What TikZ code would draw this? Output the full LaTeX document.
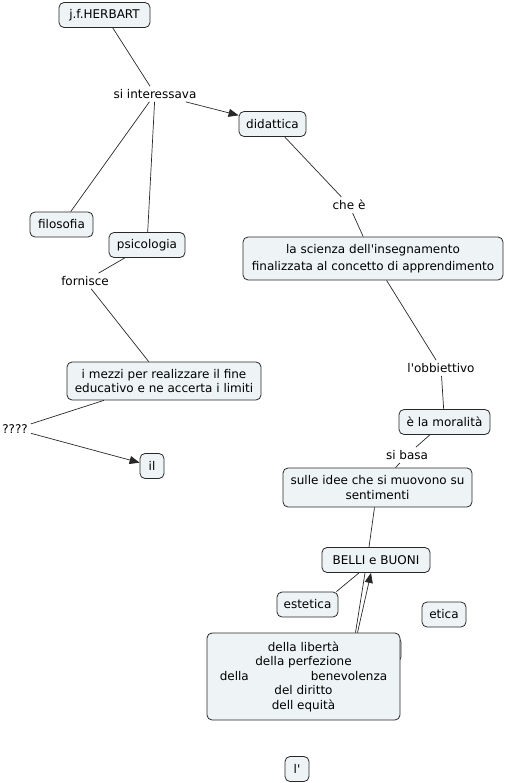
\documentclass[tikz,border=0pt]{standalone}
\usepackage{fontspec}
\setmainfont{DejaVu Sans}
\usetikzlibrary{arrows.meta}
\definecolor{conceptfill}{RGB}{238,243,245}
\definecolor{conceptline}{RGB}{40,40,40}
\tikzset{
  concept/.style={draw=conceptline, fill=conceptfill, rounded corners=5pt, line width=0.8pt,
    minimum height=25pt, inner xsep=4pt, inner ysep=3pt, align=center,
    font=\fontsize{12}{14.5}\selectfont},
  linkword/.style={inner sep=3pt, font=\fontsize{12}{14.5}\selectfont},
  link/.style={draw=conceptline, line width=0.7pt},
  linkarrow/.style={link, -{Triangle[length=10pt,width=8pt]}}
}
\begin{document}
\begin{tikzpicture}[x=1pt,y=-1pt]
        \def\q{\textquotesingle}
        \useasboundingbox (0,0) rectangle (506,783);

        \node[concept, minimum width=91pt] (herbart) at(104.5, 15) {j.f.HERBART};
        \node[linkword] (siint) at(155, 94) {si interessava};
        \node[concept, minimum width=67pt] (didattica) at(272.5, 124) {didattica};
        \node[concept, minimum width=63pt] (filosofia) at(61.5, 224.5) {filosofia};
        \node[concept, minimum width=76pt] (psicologia) at(147, 245) {psicologia};
        \node[linkword] (fornisce) at(85, 281) {fornisce};
        \node[concept, minimum width=194pt, minimum height=38pt] (mezzi) at(164, 381)
            {i mezzi per realizzare il fine\\educativo e ne accerta i limiti};
        \node[linkword] (qmarks) at(15, 429) {????};
        \node[concept, minimum width=24pt] (il) at(152, 466) {il};

        \node[linkword] (chee) at(349, 205) {che è};
        \node[concept, minimum width=260pt, minimum height=43pt] (scienza) at(373, 258.5)
            {la scienza dell\q insegnamento\\[3pt]finalizzata al concetto di apprendimento};
        \node[linkword] (obb) at(441, 368) {l\q obbiettivo};
        \node[concept, minimum width=91pt] (moralita) at(444.5, 422) {è la moralità};
        \node[linkword] (sibasa) at(407, 455) {si basa};
        \node[concept, minimum width=189pt, minimum height=39pt] (sulle) at(377.5, 487.5)
            {sulle idee che si muovono su\\sentimenti};
        \node[concept, minimum width=108pt] (belli) at(376, 560) {BELLI e BUONI};
        \node[concept, minimum width=61pt] (estetica) at(307.5, 604.5) {estetica};
        \node[concept, minimum width=44pt] (etica) at(444, 614.5) {etica};
        \node[concept, minimum width=101pt] (hidden) at(350.5, 649.5) {};
        \node[concept, minimum width=193pt, minimum height=87pt] (virtu) at(303.5, 676.5)
            {della libertà\\della perfezione\\della\hspace{62pt}benevolenza\\del diritto\\dell equità};
        \node[concept, minimum width=24pt] (lap) at(297, 769) {l\q};

        \draw[link] (herbart) -- (siint);
        \draw[linkarrow] (siint) -- (didattica);
        \draw[link] (siint) -- (filosofia);
        \draw[link] (siint) -- (psicologia);
        \draw[link] (psicologia) -- (fornisce);
        \draw[link] (fornisce) -- (mezzi);
        \draw[link] (mezzi) -- (qmarks);
        \draw[linkarrow] (qmarks) -- (il);
        \draw[link] (didattica) -- (chee);
        \draw[link] (chee) -- (scienza);
        \draw[link] (scienza) -- (obb);
        \draw[link] (obb) -- (moralita);
        \draw[link] (moralita) -- (sibasa);
        \draw[link] (sibasa) -- (sulle);
        \draw[link] ([xshift=-3pt]sulle.south) -- ([xshift=-7pt]belli.north);
        \draw[link] ([xshift=-2pt]estetica.north east) -- ([xshift=-17pt]belli.south);
        \draw[link] ([xshift=52pt]virtu.north) -- ([xshift=-11pt]belli.south);
        \draw[linkarrow] ([xshift=54pt]virtu.north) -- ([xshift=-5pt]belli.south);
    \end{tikzpicture}
\end{document}
